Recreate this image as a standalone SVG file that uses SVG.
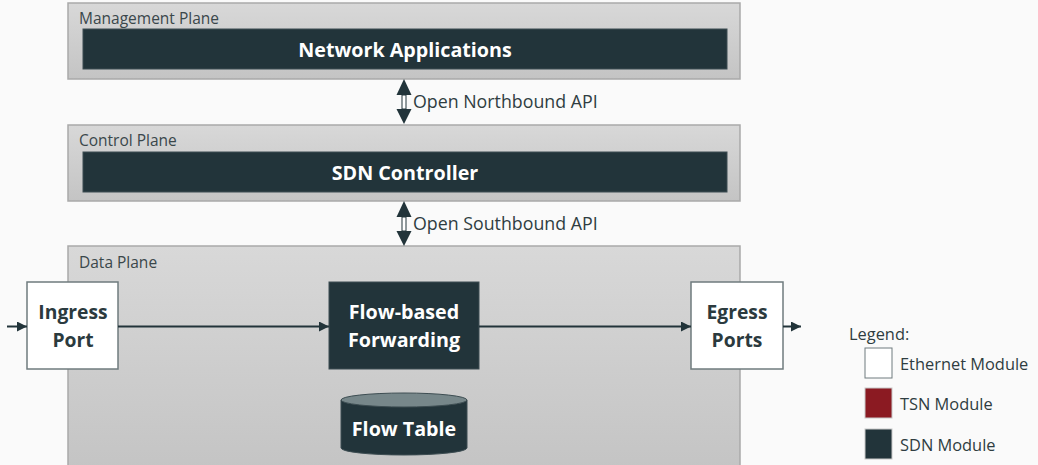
<svg xmlns="http://www.w3.org/2000/svg" width="1038" height="465" viewBox="0 0 1038 465">
<defs>
<linearGradient id="pg" x1="0" y1="0" x2="0" y2="1">
<stop offset="0" stop-color="#d8d8d8"/>
<stop offset="1" stop-color="#c4c4c4"/>
</linearGradient>
<marker id="ah" viewBox="0 0 10 10" refX="10" refY="5" markerWidth="10" markerHeight="10" markerUnits="userSpaceOnUse" orient="auto">
<path d="M0,0 L10,5 L0,10 Z" fill="#22343a"/>
</marker>
<style>
.plane{fill:url(#pg);stroke:#a9a9a9;stroke-width:1.5}
.plbl{font-family:"Open Sans","Liberation Sans",sans-serif;font-size:15.5px;fill:#3a474b}
.dark{fill:#22343a;stroke:#3d4d52;stroke-width:1}
.white{fill:#ffffff;stroke:#6f7b7e;stroke-width:1.5}
.wt{font-family:"Open Sans","Liberation Sans",sans-serif;font-weight:bold;font-size:19.7px;fill:#ffffff;text-anchor:middle}
.dt{font-family:"Open Sans","Liberation Sans",sans-serif;font-weight:bold;font-size:19.3px;fill:#2b3a3e;text-anchor:middle}
.api{font-family:"Open Sans","Liberation Sans",sans-serif;font-size:17.8px;fill:#2f3d41}
.leg{font-family:"Open Sans","Liberation Sans",sans-serif;font-size:16.4px;fill:#2f3d41}
.conn{stroke:#22343a;stroke-width:2;fill:none}
</style>
</defs>
<rect x="0" y="0" width="1038" height="465" fill="#fafafa"/>

<g id="management-plane">
<rect class="plane" x="68" y="3" width="672" height="76"/>
<text class="plbl" x="79" y="24">Management Plane</text>
</g>
<g id="network-applications">
<rect class="dark" x="83" y="29" width="644" height="40"/>
<text class="wt" x="405" y="57" font-size="20.6px">Network Applications</text>
</g>

<g id="control-plane">
<rect class="plane" x="68" y="125" width="672" height="76"/>
<text class="plbl" x="79" y="146">Control Plane</text>
</g>
<g id="sdn-controller">
<rect class="dark" x="83" y="152" width="644" height="40"/>
<text class="wt" x="405" y="180" font-size="20.6px">SDN Controller</text>
</g>

<g id="data-plane">
<rect class="plane" x="68" y="246" width="672" height="225"/>
<text class="plbl" x="79" y="268">Data Plane</text>
</g>

<g id="ingress-port">
<rect class="white" x="27" y="282" width="91" height="87"/>
<text class="dt" x="73" y="319">Ingress</text>
<text class="dt" x="73" y="347">Port</text>
</g>

<g id="flow-based-forwarding">
<rect class="dark" x="329" y="282" width="150" height="87"/>
<text class="wt" x="404" y="319">Flow-based</text>
<text class="wt" x="404" y="347">Forwarding</text>
</g>

<g id="egress-ports">
<rect class="white" x="691" y="282" width="92" height="87"/>
<text class="dt" x="737" y="319">Egress</text>
<text class="dt" x="737" y="347">Ports</text>
</g>

<g id="flow-table">
<path d="M341,400 L341,448 A63,7 0 0 0 467,448 L467,400 Z" fill="#22343a" stroke="#3d4d52" stroke-width="1"/>
<ellipse cx="404" cy="400" rx="63" ry="7" fill="#77878a" stroke="#3d4d52" stroke-width="1"/>
<text class="wt" x="404" y="436">Flow Table</text>
</g>

<g id="connectors">
<line class="conn" x1="7" y1="326.5" x2="27" y2="326.5" marker-end="url(#ah)"/>
<line class="conn" x1="118" y1="326.5" x2="329" y2="326.5" marker-end="url(#ah)"/>
<line class="conn" x1="479" y1="326.5" x2="691" y2="326.5" marker-end="url(#ah)"/>
<line class="conn" x1="783" y1="326.5" x2="801" y2="326.5" marker-end="url(#ah)"/>
<g id="northbound-arrow">
<path d="M404,79 L411.5,95 L396.5,95 Z M404,124 L411.5,109 L396.5,109 Z" fill="#22343a"/>
<rect x="402" y="95" width="4" height="14" fill="#ffffff" stroke="#22343a" stroke-width="1"/>
</g>
<g id="southbound-arrow">
<path d="M404,201 L411.5,217 L396.5,217 Z M404,246 L411.5,231 L396.5,231 Z" fill="#22343a"/>
<rect x="402" y="217" width="4" height="14" fill="#ffffff" stroke="#22343a" stroke-width="1"/>
</g>
</g>
<text class="api" x="413" y="108">Open Northbound API</text>
<text class="api" x="413" y="230">Open Southbound API</text>

<g id="legend">
<text class="leg" x="849" y="340">Legend:</text>
<rect x="865" y="348" width="27" height="30" fill="#ffffff" stroke="#6f7b7e" stroke-width="1"/>
<text class="leg" x="900" y="370">Ethernet Module</text>
<rect x="865" y="388" width="27" height="30" fill="#8b1a22" stroke="#c8c8c8" stroke-width="1"/>
<text class="leg" x="900" y="410">TSN Module</text>
<rect x="865" y="429" width="27" height="30" fill="#22343a" stroke="#c8c8c8" stroke-width="1"/>
<text class="leg" x="900" y="451">SDN Module</text>
</g>
</svg>
